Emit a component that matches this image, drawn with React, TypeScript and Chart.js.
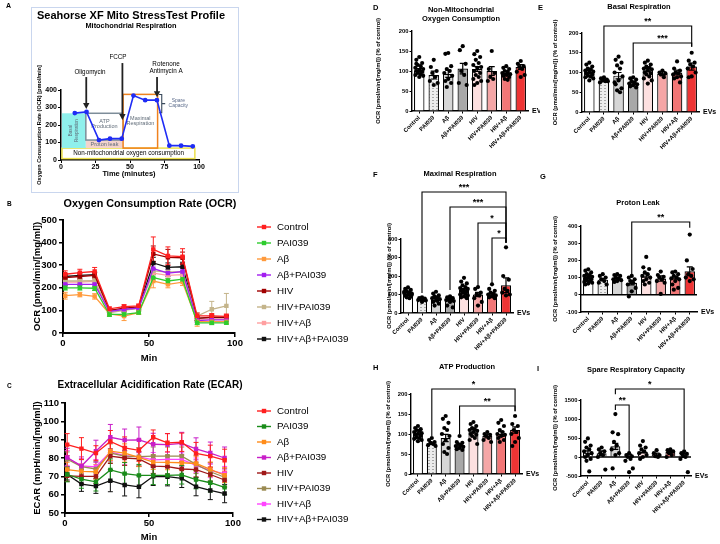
import React, { useEffect, useRef } from "react";
import { Chart, registerables } from "chart.js";

Chart.register(...registerables);

const FF = "'Liberation Sans', Arial, Helvetica, sans-serif";

/* ---------------- Panel A : schematic ---------------- */
const schemTime = [10, 18.5, 27.5, 35.5, 44, 52.5, 61, 69.5, 78.5, 87, 95.5];
const schemOCR = [268, 275, 114, 122, 122, 368, 342, 342, 82, 82, 78];

/* ---------------- Groups ---------------- */
const groups = ["Control", "PAI039", "Aβ", "Aβ+PAI039", "HIV", "HIV+PAI039", "HIV+Aβ", "HIV+Aβ+PAI039"];

/* ---------------- Panel B : OCR ---------------- */
const timeMin = [1.3, 9.8, 18.4, 27, 35.5, 44, 52.5, 61, 69.5, 78, 86.5, 95];
const ocrControl = [260, 267, 272, 107, 117, 120, 370, 341, 338, 76, 76, 74];
const ocrPAI039 = [200, 200, 198, 82, 82, 90, 245, 230, 238, 45, 45, 45];
const ocrAb = [165, 170, 162, 85, 75, 90, 230, 215, 225, 50, 50, 50];
const ocrAbPAI = [215, 215, 215, 95, 105, 110, 285, 265, 272, 55, 58, 58];
const ocrHIV = [245, 250, 255, 100, 110, 115, 350, 335, 333, 65, 70, 70];
const ocrHIVPAI = [230, 230, 232, 90, 100, 110, 275, 270, 270, 75, 105, 120];
const ocrHIVAb = [225, 225, 228, 100, 108, 112, 265, 255, 258, 60, 62, 62];
const ocrHIVAbPAI = [250, 255, 258, 100, 105, 110, 310, 290, 293, 65, 68, 68];
const ocrControlErr = [15, 15, 18, 8, 8, 8, 55, 40, 35, 12, 10, 10];
const ocrPAI039Err = [10, 10, 10, 8, 8, 6, 15, 12, 12, 8, 8, 6];
const ocrAbErr = [15, 10, 12, 10, 20, 8, 30, 15, 15, 20, 8, 8];
const ocrAbPAIErr = [12, 12, 12, 6, 8, 8, 20, 15, 15, 8, 8, 8];
const ocrHIVErr = [12, 12, 12, 8, 8, 8, 35, 35, 25, 10, 10, 10];
const ocrHIVPAIErr = [12, 12, 12, 8, 8, 8, 30, 20, 20, 15, 35, 55];
const ocrHIVAbErr = [10, 10, 10, 8, 8, 8, 20, 15, 15, 8, 8, 8];
const ocrHIVAbPAIErr = [12, 12, 12, 8, 8, 8, 25, 20, 20, 10, 10, 10];
const ocrColors = ["#ff1f1f", "#2ecc2e", "#ff9a3c", "#a21ef0", "#a00000", "#c4b48a", "#ff9fa0", "#111111"];

/* ---------------- Panel C : ECAR ---------------- */
const ecarControl = [87.3, 85.1, 82.7, 89, 85.5, 84.2, 91.3, 88.3, 88.6, 82.5, 81, 78.8];
const ecarPAI039 = [71, 68.5, 67, 73.5, 71.5, 70.5, 70.5, 70.5, 70.8, 68.2, 66.5, 64];
const ecarAb = [73.7, 72.7, 72.5, 83.7, 82.7, 80.3, 77.8, 77.6, 77.4, 77, 73.8, 70.6];
const ecarAbPAI = [80.3, 75.6, 83.7, 91.3, 89.8, 89.9, 87.5, 87.3, 88, 85, 82.7, 80];
const ecarHIV = [70.3, 70, 70, 81, 80, 79.5, 75.6, 75.3, 74, 73.7, 71, 68];
const ecarHIVPAI = [79.3, 75.3, 74, 82.7, 81, 80.7, 81, 81, 81, 76.5, 72.5, 69.5];
const ecarHIVAb = [80, 75.7, 75.2, 83.3, 81.3, 80.6, 79, 79.3, 79.2, 76, 73.3, 71.4];
const ecarHIVAbPAI = [71, 65.8, 64.7, 67.6, 65.3, 64.3, 70, 69.8, 68.9, 64.4, 62.3, 60.6];
const ecarControlErr = [6, 6, 4, 6, 6, 6, 4, 5, 5, 6, 6, 6];
const ecarPAI039Err = [4, 5, 5, 6, 6, 6, 5, 5, 5, 5, 5, 4];
const ecarAbErr = [4, 4, 4, 5, 5, 5, 4, 4, 4, 4, 4, 4];
const ecarAbPAIErr = [5, 5, 6, 7, 6, 7, 6, 6, 6, 6, 6, 6];
const ecarHIVErr = [3, 4, 4, 4, 4, 4, 4, 4, 4, 4, 4, 4];
const ecarHIVPAIErr = [4, 4, 4, 5, 5, 5, 5, 5, 5, 5, 5, 5];
const ecarHIVAbErr = [4, 4, 4, 5, 5, 5, 4, 4, 4, 4, 4, 4];
const ecarHIVAbPAIErr = [3, 4, 4, 6, 6, 6, 5, 5, 5, 5, 5, 5];
const ecarColors = ["#ff1f1f", "#1a8c1a", "#ff8c1a", "#c81ec8", "#a01818", "#9a8a52", "#ff44ff", "#111111"];

/* ---------------- Bar panels ---------------- */
const barColorsBase = ["#ffffff", "PATTERN", "#d6d6d6", "#a8a8a8", "#fde0e0", "#f5a6a6", "#f27676", "#ee3434"];

// D Non-mitochondrial
const nmMeans = [102, 90, 93, 106, 105, 100, 95, 110];
const nmSem = [4, 10, 9, 13, 6, 11, 4, 6];
const nmDots = [
  [135, 128, 120, 115, 112, 108, 105, 102, 100, 98, 95, 92, 90, 88, 85, 118],
  [128, 110, 100, 95, 85, 75, 70, 65],
  [145, 143, 112, 105, 100, 95, 88, 80, 75, 70, 60],
  [162, 152, 118, 100, 90, 70, 65],
  [150, 142, 135, 128, 120, 115, 110, 108, 100, 95, 90, 85, 80, 75, 70, 65],
  [150, 105, 95, 85, 80, 75],
  [112, 108, 105, 100, 98, 95, 92, 90, 88, 85, 80, 78],
  [125, 118, 112, 110, 105, 98, 90, 85],
];
// E Basal
const basalMeans = [102, 80, 92, 73, 106, 97, 100, 115];
const basalSem = [3, 3, 8, 4, 4, 5, 6, 9];
const basalDots = [
  [125, 120, 115, 110, 108, 105, 102, 100, 98, 95, 92, 90, 88, 85, 80],
  [88, 85, 82, 80, 78, 75, 78],
  [140, 132, 125, 118, 110, 100, 90, 80, 70, 60, 55, 50, 75],
  [88, 85, 82, 78, 75, 72, 70, 68, 65, 62],
  [130, 125, 120, 115, 112, 110, 108, 105, 100, 98, 95, 90, 85, 80, 72],
  [105, 100, 98, 95, 88],
  [128, 110, 105, 100, 98, 95, 90, 88, 85, 75],
  [150, 130, 125, 120, 115, 110, 100, 90, 88],
];
// F Maximal
const maxMeans = [105, 72, 72, 72, 125, 100, 102, 150];
const maxSem = [5, 4, 7, 6, 8, 12, 6, 40];
const maxDots = [
  [138, 130, 125, 118, 112, 108, 105, 100, 95, 90, 85, 80, 115, 98],
  [85, 80, 78, 75, 72, 70, 68, 60],
  [115, 105, 95, 90, 85, 80, 75, 70, 60, 50, 40, 65],
  [90, 85, 80, 78, 75, 70, 65, 60, 40, 30],
  [190, 170, 160, 150, 140, 135, 130, 125, 120, 115, 110, 105, 100, 95, 90, 85, 80],
  [140, 130, 110, 100, 95, 80, 60, 40],
  [155, 130, 120, 110, 105, 100, 95, 90, 85, 80],
  [355, 200, 180, 130, 120, 110, 100, 95],
];
// G Proton leak
const leakMeans = [100, 88, 90, 70, 112, 95, 100, 137];
const leakSem = [5, 6, 5, 12, 10, 15, 8, 25];
const leakDots = [
  [148, 140, 130, 120, 115, 110, 105, 100, 95, 90, 85, 80, 75, 70, 65, 60],
  [120, 110, 100, 90, 80, 70, 60],
  [120, 115, 110, 100, 95, 90, 85, 80, 75],
  [110, 100, 90, 80, 70, 60, 40, 20, -10],
  [220, 160, 150, 130, 120, 110, 100, 90, 80, 70, 60],
  [135, 115, 105, 100, 90, 80, 70, 5],
  [135, 130, 120, 110, 100, 95, 90, 80, 60, 40, 30],
  [350, 200, 150, 120, 110, 100, 90, 80],
];
// H ATP production
const atpMeans = [102, 77, 90, 72, 107, 95, 100, 110];
const atpSem = [3, 3, 9, 4, 4, 5, 6, 8];
const atpDots = [
  [120, 115, 112, 110, 108, 105, 102, 100, 98, 95, 92, 90, 88, 85, 82],
  [90, 85, 80, 78, 75, 72, 70],
  [145, 138, 128, 115, 110, 100, 95, 85, 75, 65, 55, 50],
  [95, 80, 78, 75, 72, 70, 68, 65, 62, 60],
  [130, 125, 120, 115, 112, 110, 108, 105, 100, 98, 95, 90, 85, 75],
  [105, 100, 98, 95, 90, 85, 80],
  [135, 128, 120, 110, 105, 100, 98, 95, 90, 85, 80],
  [145, 125, 120, 110, 105, 100, 90, 80, 70],
];
// I Spare capacity
const spareMeans = [120, 100, 280, 30, 140, 70, 130, 40];
const spareSem = [40, 60, 80, 40, 30, 30, 20, 50];
const spareDots = [
  [490, 400, 300, 250, 200, 150, 100, 50, 0, -50, -100, -380],
  [250, 200, 150, 100, 50, 0, -330],
  [1130, 650, 600, 400, 300, 200, 100, 50, -300],
  [100, 50, 20, 0, -50, -100, -300, -400],
  [420, 300, 250, 200, 150, 100, 50, 0, -50],
  [180, 100, 50, 20, 0],
  [200, 180, 150, 100, 50, 0],
  [150, 100, 80, 50, 0, -50, -400],
];

/* ---------------- helpers ---------------- */
type Box = { left: number; top: number; w: number; h: number };
type Area = { x0: number; x1: number; y0: number; y1: number };

function lay(box: Box, area: Area) {
  return {
    pad: { left: 0, top: area.y0 - box.top, right: box.left + box.w - area.x1, bottom: 0 },
    yw: area.x0 - box.left,
    xh: box.top + box.h - area.y1,
  };
}

function T(ctx: any, s: string, x: number, y: number, o: any = {}) {
  ctx.save();
  ctx.font = `${o.bold === false ? "" : "bold "}${o.size || 8}px ${FF}`;
  ctx.fillStyle = o.color || "#000";
  ctx.textAlign = o.align || "center";
  ctx.textBaseline = o.base || "middle";
  if (o.rot) {
    ctx.translate(x, y);
    ctx.rotate(o.rot);
    ctx.fillText(s, 0, 0);
  } else ctx.fillText(s, x, y);
  ctx.restore();
}

const plainTick = (v: any) => String(v);
const JIT = [0, -0.2, 0.2, -0.1, 0.1, -0.27, 0.27];

/* ---------------- Panel A ---------------- */
function makeA(box: Box) {
  const area = { x0: 61, x1: 199, y0: 90, y1: 160 };
  const L = lay(box, area);
  const ox = box.left, oy = box.top;
  const deco = {
    id: "decoA",
    beforeDatasetsDraw(chart: any) {
      const ctx = chart.ctx;
      const X = (v: number) => chart.scales.x.getPixelForValue(v);
      const Y = (v: number) => chart.scales.y.getPixelForValue(v);
      const rect = (x0: number, y0: number, x1: number, y1: number, fill: any, stroke: any, lw = 1.4) => {
        const a = X(x0), b = Y(y0), c = X(x1), d = Y(y1);
        if (fill) { ctx.fillStyle = fill; ctx.fillRect(a, b, c - a, d - b); }
        if (stroke) { ctx.strokeStyle = stroke; ctx.lineWidth = lw; ctx.strokeRect(a, b, c - a, d - b); }
      };
      ctx.save();
      rect(0.7, 68, 97, 8, "#ffffff", "#ece04c", 1.5);
      rect(0.7, 267, 18, 68, "#8ff0ec", null);
      rect(18, 114, 45, 68, "#f3d3cc", null);
      rect(18, 267, 45, 114, null, "#7d8d99", 1.5);
      rect(45, 375, 70, 68, null, "#f0821e", 1.5);
      ctx.strokeStyle = "#3a4a5c"; ctx.lineWidth = 1.1;
      ctx.beginPath();
      ctx.moveTo(X(71), Y(374)); ctx.lineTo(X(73), Y(374)); ctx.lineTo(X(73), Y(270)); ctx.lineTo(X(71), Y(270));
      ctx.moveTo(X(73), Y(322)); ctx.lineTo(X(75.5), Y(322));
      ctx.stroke();
      ctx.restore();
      const g = "#5f6b78";
      T(ctx, "Basal", X(7), Y(168), { size: 4.5, bold: false, color: g, rot: -Math.PI / 2 });
      T(ctx, "Respiration", X(11.5), Y(168), { size: 4.5, bold: false, color: g, rot: -Math.PI / 2 });
      T(ctx, "ATP", X(31.5), Y(222), { size: 5.5, bold: false, color: g });
      T(ctx, "Production", X(31.5), Y(192), { size: 5.5, bold: false, color: g });
      T(ctx, "Proton leak", X(31.5), Y(90), { size: 5.5, bold: false, color: g });
      T(ctx, "Maximal", X(57.5), Y(240), { size: 5.5, bold: false, color: g });
      T(ctx, "Respiration", X(57.5), Y(208), { size: 5.5, bold: false, color: g });
      T(ctx, "Non-mitochondrial oxygen consumption", X(49), Y(38), { size: 6.3, bold: false, color: "#000" });
      T(ctx, "Spare", X(85), Y(338), { size: 5, bold: false, color: "#5a6a8a" });
      T(ctx, "Capacity", X(85), Y(308), { size: 5, bold: false, color: "#5a6a8a" });
    },
    afterDraw(chart: any) {
      const ctx = chart.ctx;
      const X = (v: number) => chart.scales.x.getPixelForValue(v);
      const Y = (v: number) => chart.scales.y.getPixelForValue(v);
      const arrow = (t: number, y0: number, y1: number) => {
        const x = X(t), a = Y(y0), b = Y(y1);
        ctx.save();
        ctx.strokeStyle = "#222"; ctx.lineWidth = 1.8;
        ctx.beginPath(); ctx.moveTo(x, a); ctx.lineTo(x, b - 4); ctx.stroke();
        ctx.fillStyle = "#222";
        ctx.beginPath(); ctx.moveTo(x - 3.2, b - 6); ctx.lineTo(x + 3.2, b - 6); ctx.lineTo(x, b); ctx.closePath(); ctx.fill();
        ctx.restore();
      };
      arrow(18.3, 474, 292);
      arrow(44.5, 554, 228);
      arrow(69.6, 474, 358);
      T(ctx, "Oligomycin", 90 - ox, 72 - oy, { size: 6.3, bold: false });
      T(ctx, "FCCP", 118 - ox, 57 - oy, { size: 6.3, bold: false });
      T(ctx, "Rotenone", 166 - ox, 64 - oy, { size: 6.3, bold: false });
      T(ctx, "Antimycin A", 166 - ox, 71 - oy, { size: 6.3, bold: false });
      T(ctx, "Seahorse XF Mito StressTest Profile", 131 - ox, 16 - oy, { size: 11 });
      T(ctx, "Mitochondrial Respiration", 131 - ox, 25.5 - oy, { size: 7.4 });
      T(ctx, "Oxygen Consumption Rate (OCR) [pmol/min]", 39 - ox, 125 - oy, { size: 5.6, rot: -Math.PI / 2 });
      T(ctx, "Time (minutes)", 129 - ox, 174 - oy, { size: 7.5 });
      T(ctx, "A", 6 - ox, 6 - oy, { size: 7, align: "left" });
      ctx.save();
      ctx.strokeStyle = "#c9d6ee"; ctx.lineWidth = 1;
      ctx.strokeRect(31.5 - ox, 7.5 - oy, 207, 185);
      ctx.restore();
    },
  };
  return {
    type: "line",
    data: {
      datasets: [
        {
          data: schemTime.map((t, i) => ({ x: t, y: schemOCR[i] })),
          borderColor: "#1f2cf5", backgroundColor: "#1f2cf5", pointRadius: 1.6, borderWidth: 1.6, tension: 0,
        },
      ],
    },
    options: {
      animation: false, responsive: false, events: [],
      layout: { padding: L.pad },
      plugins: { legend: { display: false }, tooltip: { enabled: false } },
      scales: {
        x: {
          type: "linear", min: 0, max: 100,
          afterFit: (s: any) => { s.height = L.xh; },
          ticks: { stepSize: 25, color: "#000", font: { family: FF, size: 7, weight: "bold" }, padding: 0 },
          grid: { drawOnChartArea: false, tickLength: 3, color: "#000" },
          border: { color: "#000", width: 1.5 },
        },
        y: {
          min: 0, max: 400,
          afterFit: (s: any) => { s.width = L.yw; },
          ticks: { stepSize: 100, color: "#000", font: { family: FF, size: 7, weight: "bold" }, padding: 1 },
          grid: { drawOnChartArea: false, tickLength: 3, color: "#000" },
          border: { color: "#000", width: 1.5 },
        },
      },
    },
    plugins: [deco],
  };
}

/* ---------------- Line panels B / C ---------------- */
function makeLine(spec: any) {
  const { box, area } = spec;
  const L = lay(box, area);
  const ox = box.left, oy = box.top;
  const datasets = spec.values.map((v: number[], i: number) => ({
    label: groups[i],
    data: timeMin.map((t, k) => ({ x: t, y: v[k] })),
    errors: spec.errors[i],
    borderColor: spec.colors[i],
    backgroundColor: spec.colors[i],
    pointStyle: "rect", pointRadius: 2.2, borderWidth: 1.3, tension: 0,
  }));
  const deco = {
    id: "decoLine",
    beforeDatasetsDraw(chart: any) {
      const ctx = chart.ctx;
      const xs = chart.scales.x, ys = chart.scales.y;
      for (let di = chart.data.datasets.length - 1; di >= 0; di--) {
        const ds = chart.data.datasets[di];
        ctx.save();
        ctx.strokeStyle = ds.borderColor; ctx.lineWidth = 1;
        ds.data.forEach((p: any, k: number) => {
          const e = ds.errors[k];
          const x = xs.getPixelForValue(p.x);
          const a = ys.getPixelForValue(p.y - e), b = ys.getPixelForValue(p.y + e);
          ctx.beginPath();
          ctx.moveTo(x, a); ctx.lineTo(x, b);
          ctx.moveTo(x - 2.5, a); ctx.lineTo(x + 2.5, a);
          ctx.moveTo(x - 2.5, b); ctx.lineTo(x + 2.5, b);
          ctx.stroke();
        });
        ctx.restore();
      }
    },
    afterDraw(chart: any) {
      const ctx = chart.ctx;
      T(ctx, spec.letter, spec.letterX - ox, spec.letterY - oy, { size: 6.5, align: "left" });
      T(ctx, spec.title, spec.titleX - ox, spec.titleY - oy, { size: spec.titleSize });
      T(ctx, spec.yTitle, spec.yTitleX - ox, (area.y0 + area.y1) / 2 - oy, { size: 9.5, rot: -Math.PI / 2 });
      T(ctx, "Min", (area.x0 + area.x1) / 2 - ox, spec.minY - oy, { size: 9.5 });
      groups.forEach((g, i) => {
        const y = spec.legY0 + i * spec.legDy - oy;
        ctx.save();
        ctx.strokeStyle = spec.colors[i]; ctx.lineWidth = 1.4;
        ctx.beginPath(); ctx.moveTo(257 - ox, y); ctx.lineTo(271 - ox, y); ctx.stroke();
        ctx.fillStyle = spec.colors[i];
        ctx.fillRect(264 - ox - 2.2, y - 2.2, 4.4, 4.4);
        ctx.restore();
        T(ctx, g, 277 - ox, y, { size: 9.8, bold: false, align: "left" });
      });
    },
  };
  return {
    type: "line",
    data: { datasets },
    options: {
      animation: false, responsive: false, events: [],
      layout: { padding: L.pad },
      plugins: { legend: { display: false }, tooltip: { enabled: false } },
      scales: {
        x: {
          type: "linear", min: 0, max: 100,
          afterFit: (s: any) => { s.height = L.xh; },
          ticks: { stepSize: 50, color: "#000", font: { family: FF, size: 9.5, weight: "bold" }, padding: 1 },
          grid: { drawOnChartArea: false, tickLength: 4, color: "#000", lineWidth: 1.5 },
          border: { color: "#000", width: 2 },
        },
        y: {
          min: spec.yMin, max: spec.yMax,
          afterFit: (s: any) => { s.width = L.yw; },
          ticks: { stepSize: spec.yStep, color: "#000", font: { family: FF, size: 9.5, weight: "bold" }, padding: 2 },
          grid: { drawOnChartArea: false, tickLength: 4, color: "#000", lineWidth: 1.5 },
          border: { color: "#000", width: 2 },
        },
      },
    },
    plugins: [deco],
  };
}

/* ---------------- Bar panels D-I ---------------- */
function makeBar(spec: any) {
  const { box, area } = spec;
  const L = lay(box, area);
  const ox = box.left, oy = box.top;
  const pc = document.createElement("canvas");
  pc.width = 4; pc.height = 3;
  const pctx = pc.getContext("2d")!;
  pctx.fillStyle = "#ececec"; pctx.fillRect(0, 0, 4, 3);
  pctx.fillStyle = "#a9a9a9"; pctx.fillRect(0, 1, 2, 1);
  const pattern = pctx.createPattern(pc, "repeat");
  const colors = barColorsBase.map((c) => (c === "PATTERN" ? pattern : c));
  const dots: any[] = [];
  spec.dots.forEach((arr: number[], i: number) =>
    arr.forEach((v, k) => dots.push({ x: i + JIT[k % JIT.length], y: v }))
  );
  const deco = {
    id: "decoBar",
    afterDatasetsDraw(chart: any) {
      const ctx = chart.ctx;
      const xs = chart.scales.x, ys = chart.scales.y;
      ctx.save();
      ctx.strokeStyle = "#000"; ctx.lineWidth = 1.2;
      spec.means.forEach((m: number, i: number) => {
        const x = xs.getPixelForValue(i);
        const a = ys.getPixelForValue(m - spec.sems[i]), b = ys.getPixelForValue(m + spec.sems[i]);
        ctx.beginPath();
        ctx.moveTo(x, a); ctx.lineTo(x, b);
        ctx.moveTo(x - 3, b); ctx.lineTo(x + 3, b);
        ctx.moveTo(x - 3, a); ctx.lineTo(x + 3, a);
        ctx.stroke();
      });
      if (spec.zeroLine) {
        const y0 = ys.getPixelForValue(0);
        ctx.lineWidth = 1.4;
        ctx.beginPath(); ctx.moveTo(chart.chartArea.left, y0); ctx.lineTo(chart.chartArea.right, y0); ctx.stroke();
      }
      ctx.restore();
    },
    afterDraw(chart: any) {
      const ctx = chart.ctx;
      const xs = chart.scales.x, ys = chart.scales.y;
      T(ctx, spec.letter, spec.letterX - ox, spec.letterY - oy, { size: 7.5, align: "left" });
      spec.title.forEach((t: string, i: number) =>
        T(ctx, t, spec.titleX - ox, spec.titleY + i * 9 - oy, { size: 7.5 })
      );
      T(ctx, "OCR (pmol/min/[mg/ml]) (% of control)", spec.yTitleX - ox, (area.y0 + area.y1) / 2 - oy, {
        size: 5.8, rot: -Math.PI / 2,
      });
      T(ctx, "EVs", area.x1 + 4 - ox, area.y1 - oy, { size: 7, align: "left" });
      (spec.brackets || []).forEach((b: any) => {
        const x1 = xs.getPixelForValue(b.from), x2 = xs.getPixelForValue(b.to);
        const top = b.top - oy;
        ctx.save();
        ctx.strokeStyle = "#000"; ctx.lineWidth = 1.1;
        ctx.beginPath();
        ctx.moveTo(x1, ys.getPixelForValue(b.lb)); ctx.lineTo(x1, top); ctx.lineTo(x2, top);
        ctx.lineTo(x2, ys.getPixelForValue(b.rb));
        ctx.stroke();
        ctx.restore();
        T(ctx, b.text, (x1 + x2) / 2, top - 4, { size: 9 });
      });
    },
  };
  return {
    type: "bar",
    data: {
      labels: groups,
      datasets: [
        {
          type: "bar", data: spec.means, backgroundColor: colors, borderColor: "#000", borderWidth: 1.2,
          barPercentage: 0.72, categoryPercentage: 1, grouped: false, xAxisID: "x", yAxisID: "y", order: 2,
        },
        {
          type: "scatter", data: dots, xAxisID: "xs", yAxisID: "y", pointRadius: 2.1,
          backgroundColor: "#000", borderColor: "#000", borderWidth: 0, order: 1,
        },
      ],
    },
    options: {
      animation: false, responsive: false, events: [],
      layout: { padding: L.pad },
      plugins: { legend: { display: false }, tooltip: { enabled: false } },
      scales: {
        x: {
          type: "category", offset: true,
          afterFit: (s: any) => { s.height = L.xh; },
          ticks: {
            color: "#000", font: { family: FF, size: 5.8, weight: "bold" }, minRotation: 45, maxRotation: 45,
            padding: 1, autoSkip: false,
          },
          grid: { drawOnChartArea: false, offset: false, tickLength: 2.5, color: "#000" },
          border: { color: "#000", width: 1.4 },
        },
        xs: { type: "linear", display: false, offset: false, min: -0.5, max: 7.5, grid: { offset: false } },
        y: {
          min: spec.yMin, max: spec.yMax,
          afterFit: (s: any) => { s.width = L.yw; },
          ticks: {
            stepSize: spec.yStep, color: "#000", font: { family: FF, size: 5.8, weight: "bold" }, padding: 1,
            callback: plainTick,
          },
          grid: { drawOnChartArea: false, tickLength: 2.5, color: "#000" },
          border: { color: "#000", width: 1.4 },
        },
      },
    },
    plugins: [deco],
  };
}

/* ---------------- React ---------------- */
function ChartBox({ box, make }: { box: Box; make: () => any }) {
  const ref = useRef<HTMLCanvasElement>(null);
  useEffect(() => {
    const c = new Chart(ref.current as HTMLCanvasElement, make() as any);
    return () => c.destroy();
  }, []);
  return (
    <canvas
      ref={ref}
      width={box.w}
      height={box.h}
      style={{ position: "absolute", left: box.left, top: box.top, width: box.w, height: box.h }}
    />
  );
}

const boxA = { left: 0, top: 0, w: 240, h: 196 };
const boxB = { left: 0, top: 196, w: 360, h: 172 };
const boxC = { left: 0, top: 368, w: 360, h: 176 };
const boxD = { left: 360, top: 0, w: 180, h: 165 };
const boxE = { left: 536, top: 0, w: 184, h: 165 };
const boxF = { left: 360, top: 165, w: 180, h: 195 };
const boxG = { left: 536, top: 165, w: 184, h: 195 };
const boxH = { left: 360, top: 360, w: 180, h: 184 };
const boxI = { left: 536, top: 360, w: 184, h: 184 };

export default function App() {
  return (
    <div style={{ position: "absolute", left: 0, top: 0, width: 720, height: 544, background: "#fff", overflow: "hidden" }}>
      <ChartBox box={boxA} make={() => makeA(boxA)} />
      <ChartBox
        box={boxB}
        make={() =>
          makeLine({
            box: boxB, area: { x0: 63, x1: 235, y0: 220, y1: 333 },
            values: [ocrControl, ocrPAI039, ocrAb, ocrAbPAI, ocrHIV, ocrHIVPAI, ocrHIVAb, ocrHIVAbPAI],
            errors: [ocrControlErr, ocrPAI039Err, ocrAbErr, ocrAbPAIErr, ocrHIVErr, ocrHIVPAIErr, ocrHIVAbErr, ocrHIVAbPAIErr],
            colors: ocrColors, yMin: 0, yMax: 500, yStep: 100,
            letter: "B", letterX: 7, letterY: 204, title: "Oxygen Consumption Rate (OCR)", titleX: 150, titleY: 204, titleSize: 10.8,
            yTitle: "OCR (pmol/min/[mg/ml])", yTitleX: 37, minY: 358, legY0: 227, legDy: 16,
          })
        }
      />
      <ChartBox
        box={boxC}
        make={() =>
          makeLine({
            box: boxC, area: { x0: 65, x1: 233, y0: 403, y1: 513 },
            values: [ecarControl, ecarPAI039, ecarAb, ecarAbPAI, ecarHIV, ecarHIVPAI, ecarHIVAb, ecarHIVAbPAI],
            errors: [ecarControlErr, ecarPAI039Err, ecarAbErr, ecarAbPAIErr, ecarHIVErr, ecarHIVPAIErr, ecarHIVAbErr, ecarHIVAbPAIErr],
            colors: ecarColors, yMin: 50, yMax: 110, yStep: 10,
            letter: "C", letterX: 7, letterY: 386, title: "Extracellular Acidification Rate (ECAR)", titleX: 150, titleY: 385, titleSize: 10,
            yTitle: "ECAR (mpH/min/[mg/ml])", yTitleX: 37, minY: 537, legY0: 411, legDy: 15.5,
          })
        }
      />
      <ChartBox
        box={boxD}
        make={() =>
          makeBar({
            box: boxD, area: { x0: 412, x1: 528, y0: 31, y1: 111 },
            means: nmMeans, sems: nmSem, dots: nmDots, yMin: 0, yMax: 200, yStep: 50,
            letter: "D", letterX: 373, letterY: 8, title: ["Non-Mitochondrial", "Oxygen Consumption"], titleX: 461, titleY: 10,
            yTitleX: 378, brackets: [],
          })
        }
      />
      <ChartBox
        box={boxE}
        make={() =>
          makeBar({
            box: boxE, area: { x0: 582, x1: 699, y0: 33, y1: 112 },
            means: basalMeans, sems: basalSem, dots: basalDots, yMin: 0, yMax: 200, yStep: 50,
            letter: "E", letterX: 538, letterY: 8, title: ["Basal Respiration"], titleX: 639, titleY: 6.5,
            yTitleX: 555,
            brackets: [
              { from: 1, to: 7, top: 26, lb: 100, rb: 165, text: "**" },
              { from: 3, to: 7, top: 43, lb: 97, rb: 165, text: "***" },
            ],
          })
        }
      />
      <ChartBox
        box={boxF}
        make={() =>
          makeBar({
            box: boxF, area: { x0: 401, x1: 513, y0: 239, y1: 313 },
            means: maxMeans, sems: maxSem, dots: maxDots, yMin: 0, yMax: 400, yStep: 100,
            letter: "F", letterX: 373, letterY: 175, title: ["Maximal Respiration"], titleX: 460, titleY: 174,
            yTitleX: 389,
            brackets: [
              { from: 1, to: 7, top: 192, lb: 108, rb: 380, text: "***" },
              { from: 3, to: 7, top: 207, lb: 124, rb: 380, text: "***" },
              { from: 5, to: 7, top: 223, lb: 145, rb: 380, text: "*" },
              { from: 6, to: 7, top: 238, lb: 160, rb: 380, text: "*" },
            ],
          })
        }
      />
      <ChartBox
        box={boxG}
        make={() =>
          makeBar({
            box: boxG, area: { x0: 581, x1: 697, y0: 226, y1: 312 },
            means: leakMeans, sems: leakSem, dots: leakDots, yMin: -100, yMax: 400, yStep: 100, zeroLine: true,
            letter: "G", letterX: 540, letterY: 177, title: ["Proton Leak"], titleX: 638, titleY: 203,
            yTitleX: 555,
            brackets: [{ from: 3, to: 7, top: 222, lb: 105, rb: 390, text: "**" }],
          })
        }
      />
      <ChartBox
        box={boxH}
        make={() =>
          makeBar({
            box: boxH, area: { x0: 411, x1: 522, y0: 394, y1: 474 },
            means: atpMeans, sems: atpSem, dots: atpDots, yMin: 0, yMax: 200, yStep: 50,
            letter: "H", letterX: 373, letterY: 368, title: ["ATP Production"], titleX: 467, titleY: 367,
            yTitleX: 388,
            brackets: [
              { from: 1, to: 7, top: 389, lb: 95, rb: 157, text: "*" },
              { from: 3, to: 7, top: 406, lb: 100, rb: 157, text: "**" },
            ],
          })
        }
      />
      <ChartBox
        box={boxI}
        make={() =>
          makeBar({
            box: boxI, area: { x0: 581, x1: 691, y0: 400, y1: 476 },
            means: spareMeans, sems: spareSem, dots: spareDots, yMin: -500, yMax: 1500, yStep: 500, zeroLine: true,
            letter: "I", letterX: 537, letterY: 369, title: ["Spare Respiratory Capacity"], titleX: 636, titleY: 370,
            yTitleX: 555,
            brackets: [
              { from: 2, to: 7, top: 389, lb: 1650, rb: 200, text: "*" },
              { from: 2, to: 3, top: 405, lb: 1237, rb: 120, text: "**" },
            ],
          })
        }
      />
    </div>
  );
}
